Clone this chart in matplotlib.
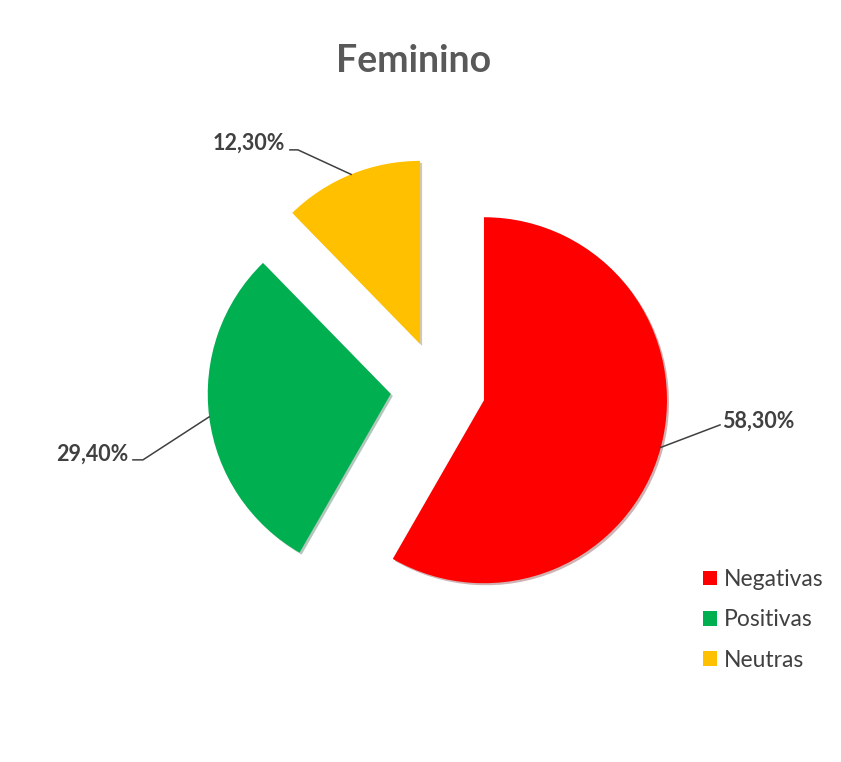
import numpy as np
import matplotlib
matplotlib.use("Agg")
from matplotlib import pyplot as plt

# data
categories = ["Negativas", "Positivas", "Neutras"]
values = [58.3, 29.4, 12.3]
labels = ["58,30%", "29,40%", "12,30%"]
colors = ["#FF0000", "#00B050", "#FFC000"]

plt.rcParams['font.family'] = ['Lato', 'DejaVu Sans']
txt_color = "#404040"

fig = plt.figure(figsize=(8.41, 7.62), dpi=100)
ax = fig.add_axes([0, 0, 1, 1])

explode = [0.26, 0.26, 0.26]
wedges, _ = ax.pie(values, colors=colors, startangle=90, counterclock=False,
                   explode=explode, radius=1,
                   shadow={'ox': 0.008, 'oy': -0.008, 'shade': 0.6, 'alpha': 0.3},
                   wedgeprops=dict(linewidth=0))
ax.set_aspect("auto")
ax.set_xlim(-2.393, 2.202)
ax.set_ylim(-2.044, 2.120)
ax.axis("off")

# label layout: elbow point and text anchor (in radius units)
elbows = [(1.541, -0.202), (-1.612, -0.393), (-0.765, 1.301)]
ends = [(1.541, -0.202), (-1.667, -0.393), (-0.809, 1.301)]
text_pos = [(1.552, -0.182, "left"), (-1.694, -0.360, "right"), (-0.836, 1.339, "right")]

for w, lab, el, en, tp in zip(wedges, labels, elbows, ends, text_pos):
    mid = np.deg2rad((w.theta1 + w.theta2) / 2)
    cx, cy = w.center
    tip = (cx + np.cos(mid), cy + np.sin(mid))
    ax.plot([tip[0], el[0], en[0]], [tip[1], el[1], en[1]], color=txt_color, lw=1.1)
    ax.text(tp[0], tp[1], lab, ha=tp[2], va="center", fontsize=15.5,
            fontweight="bold", color=txt_color)

fig.text(0.492, 0.920, "Feminino", ha="center", va="center", fontsize=27,
         fontweight="bold", color="#595959")

leg = ax.legend(wedges, categories, loc="upper left", bbox_to_anchor=(0.836, 0.253),
                bbox_transform=fig.transFigure, frameon=False, fontsize=16.5,
                handlelength=0.6, handleheight=0.6, handletextpad=0.3,
                borderaxespad=0, borderpad=0,
                labelspacing=0.84, labelcolor=txt_color)

fig.savefig("out.png", dpi=100)
